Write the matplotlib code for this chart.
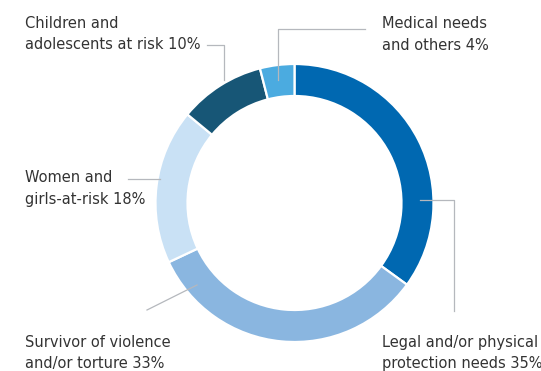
import matplotlib
matplotlib.use("Agg")
import matplotlib.pyplot as plt

categories = ["Legal and/or physical\nprotection needs 35%",
              "Survivor of violence\nand/or torture 33%",
              "Women and\ngirls-at-risk 18%",
              "Children and\nadolescents at risk 10%",
              "Medical needs\nand others 4%"]
values = [35, 33, 18, 10, 4]
colors = ["#0068b1", "#8ab6e0", "#c9e1f5", "#175676", "#4babe0"]

W, H = 541, 371
fig = plt.figure(figsize=(W / 100, H / 100), dpi=100)
ax = fig.add_axes([0, 0, 1, 1])
ax.set_xlim(0, W)
ax.set_ylim(0, H)
ax.set_aspect("equal")
ax.axis("off")

cx, cy, R = 294.5, H - 203, 139
ax.pie(values, colors=colors, startangle=90, counterclock=False,
       center=(cx, cy), radius=R, frame=True,
       wedgeprops=dict(width=32, edgecolor="white", linewidth=1.6))
ax.set_xlim(0, W)
ax.set_ylim(0, H)
ax.axis("off")

def Y(y):
    return H - y

lc = "#b5b8bd"
lw = 0.9
# leader lines (pixel coords from top)
ax.plot([207, 223.5, 223.5], [Y(45), Y(45), Y(80)], color=lc, lw=lw)
ax.plot([365, 278, 278], [Y(29), Y(29), Y(80)], color=lc, lw=lw)
ax.plot([128, 160], [Y(179), Y(179)], color=lc, lw=lw)
ax.plot([147, 197], [Y(310), Y(285)], color=lc, lw=lw)
ax.plot([420, 454, 454], [Y(200), Y(200), Y(311)], color=lc, lw=lw)

tc = "#333333"
fs = 10.5
fam = ["DejaVu Sans"]
pos = [(382, 353), (25, 353), (25, 188.5), (25, 34), (382, 34.5)]
for lab, (x, y) in zip(categories, pos):
    ax.text(x, Y(y), lab, ha="left", va="center", fontsize=fs, color=tc,
            family=fam, linespacing=1.55)

fig.savefig("out.png", dpi=100)
